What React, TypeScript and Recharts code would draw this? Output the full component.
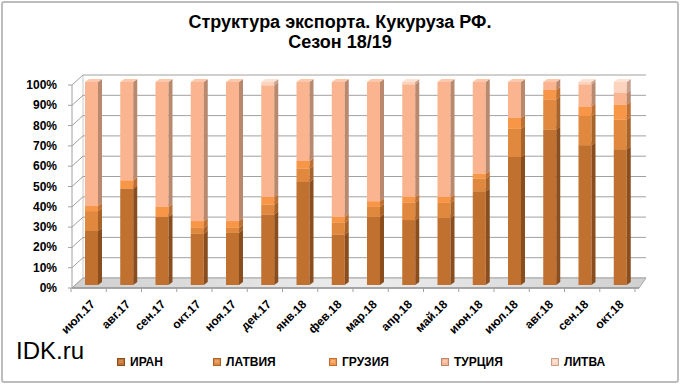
import React from 'react';
import { BarChart, Bar, XAxis, YAxis, CartesianGrid } from 'recharts';

// ---------- data ----------
const categories = ['июл.17', 'авг.17', 'сен.17', 'окт.17', 'ноя.17', 'дек.17', 'янв.18', 'фев.18', 'мар.18', 'апр.18', 'май.18', 'июн.18', 'июл.18', 'авг.18', 'сен.18', 'окт.18'];
const iran = [26.6, 47.5, 33.6, 25.4, 25.7, 34.8, 50.8, 24.9, 33.6, 32.0, 33.1, 46.2, 63.1, 76.6, 68.9, 66.9];
const latvia = [9.8, 0.0, 0.0, 2.8, 2.5, 4.9, 6.6, 5.8, 4.9, 8.7, 7.4, 6.3, 13.9, 14.9, 14.4, 14.6];
const georgia = [2.5, 4.1, 4.9, 3.3, 3.3, 3.7, 3.7, 2.9, 2.8, 2.7, 2.9, 2.4, 5.3, 4.7, 4.7, 7.4];
const turkey = [61.1, 48.4, 61.5, 68.5, 68.5, 55.0, 38.9, 66.4, 58.7, 55.5, 56.6, 45.1, 17.7, 3.8, 10.9, 5.7];
const lithuania = [0, 0, 0, 0, 0, 1.6, 0, 0, 0, 1.1, 0, 0, 0, 0, 1.1, 5.4];

const seriesNames = ['ИРАН', 'ЛАТВИЯ', 'ГРУЗИЯ', 'ТУРЦИЯ', 'ЛИТВА'];
const yTicks = [0, 0.1, 0.2, 0.3, 0.4, 0.5, 0.6, 0.7, 0.8, 0.9, 1];
const yTickLabels = ['0%', '10%', '20%', '30%', '40%', '50%', '60%', '70%', '80%', '90%', '100%'];
const titleLines = ['Структура экспорта. Кукуруза РФ.', 'Сезон 18/19'];
const brand = 'IDK.ru';

const data = categories.map((c, i) => ({
  cat: c,
  iran: iran[i],
  latvia: latvia[i],
  georgia: georgia[i],
  turkey: turkey[i],
  lithuania: lithuania[i],
}));

// ---------- styles ----------
const series = [
  { key: 'iran', front: '#C0702F', side: '#8A4E1E', top: '#CF8A4E' },
  { key: 'latvia', front: '#E0883D', side: '#A8632A', top: '#EAA064' },
  { key: 'georgia', front: '#F79646', side: '#BE7034', top: '#FAB07A' },
  { key: 'turkey', front: '#FAB590', side: '#B8896E', top: '#FCC7AA' },
  { key: 'lithuania', front: '#FCD4BE', side: '#C6A28E', top: '#FDE2D4' },
];
const legendX = [117, 213, 329, 441, 551];

const FONT = 'Arial, "Liberation Sans", sans-serif';
const FRONT_X = 72;
const BACK_X = 83;
const BACK_RIGHT = 646;
const FRONT_RIGHT = 639;
const BACK_DY = -7;
const FRONT_DY = 3;
const GRID = '#A0A0A0';

const makeShape = (s: any) => (props: any) => {
  const { x, y, width, height } = props;
  if (!height || height <= 0.05) return <g />;
  const d = 4;
  const r = 3;
  return (
    <g>
      <rect x={x} y={y} width={width} height={height} fill={s.front} />
      <polygon
        points={`${x + width},${y} ${x + width + d},${y - r} ${x + width + d},${y + height - r} ${x + width},${y + height}`}
        fill={s.side}
      />
      <polygon
        points={`${x},${y} ${x + width},${y} ${x + width + d},${y - r} ${x + d},${y - r}`}
        fill={s.top}
      />
    </g>
  );
};

const GridLine = (props: any) => {
  const { y1, index } = props;
  const yb = y1 + BACK_DY;
  const yf = y1 + FRONT_DY;
  const isBottom = Math.abs(y1 - 285) < 1;
  return (
    <g key={`g-${index}-${y1}`}>
      <line x1={BACK_X} y1={yb} x2={BACK_RIGHT} y2={yb} stroke={GRID} strokeWidth={1} />
      <line x1={FRONT_X} y1={yf} x2={BACK_X} y2={yb} stroke={GRID} strokeWidth={1} />
      <line x1={FRONT_X - 4} y1={yf} x2={FRONT_X} y2={yf} stroke={GRID} strokeWidth={1} />
      {isBottom && (
        <g>
          <line x1={FRONT_X} y1={82 + FRONT_DY} x2={FRONT_X} y2={yf} stroke={GRID} strokeWidth={1} />
          <line x1={BACK_X} y1={82 + BACK_DY} x2={BACK_X} y2={yb} stroke="#C8C8C8" strokeWidth={1} />
          <defs>
            <linearGradient id="floorGrad" x1="0" y1="0" x2="1" y2="0">
              <stop offset="0" stopColor="#CFCFCF" />
              <stop offset="0.5" stopColor="#EDEDED" />
              <stop offset="1" stopColor="#D0D0D0" />
            </linearGradient>
          </defs>
          <polygon
            points={`${FRONT_X},${yf} ${FRONT_RIGHT},${yf} ${BACK_RIGHT},${yb} ${BACK_X},${yb}`}
            fill="url(#floorGrad)"
            stroke="#A8A8A8"
            strokeWidth={1}
          />
          <line x1={FRONT_X} y1={yf} x2={FRONT_RIGHT} y2={yf} stroke="#999" strokeWidth={1.5} />
        </g>
      )}
    </g>
  );
};

const YTick = (props: any) => {
  const { y, payload, index } = props;
  return (
    <text
      x={57}
      y={y + FRONT_DY}
      textAnchor="end"
      dominantBaseline="central"
      fontFamily={FONT}
      fontWeight="bold"
      fontSize={12}
      fill="#000"
    >
      {yTickLabels[index] ?? `${Math.round(payload.value * 100)}%`}
    </text>
  );
};

const XTick = (props: any) => {
  const { x, payload, index } = props;
  const band = 35.23;
  const fx = x - 3;
  return (
    <g>
      <line x1={fx - band / 2} y1={288} x2={fx - band / 2} y2={292} stroke={GRID} />
      {index === categories.length - 1 && (
        <line x1={fx + band / 2} y1={288} x2={fx + band / 2} y2={292} stroke={GRID} />
      )}
      <text
        transform={`translate(${x + 4},${305}) rotate(-45)`}
        textAnchor="end"
        fontFamily={FONT}
        fontWeight="bold"
        fontSize={12}
        fill="#000"
      >
        {payload.value}
      </text>
    </g>
  );
};

const LegendMarker = ({ s }: any) => (
  <svg width={8} height={8} style={{ position: 'absolute', left: 0, top: 3 }}>
    <rect x={0.5} y={0.5} width={7} height={7} fill={s.front} stroke={s.side} strokeWidth={1} />
    <rect x={2} y={2} width={4} height={3} fill={s.top} />
  </svg>
);

export default function App() {
  return (
    <div style={{ position: 'absolute', left: 0, top: 0, width: 680, height: 384, background: '#fff', fontFamily: FONT }}>
      <div
        style={{
          position: 'absolute', left: 1, top: 1, width: 678, height: 382, boxSizing: 'border-box',
          border: '2px solid #BDBDBD', borderRadius: 3,
        }}
      />
      <div style={{ position: 'absolute', left: 0, top: 12, width: 680, textAlign: 'center', fontWeight: 'bold', fontSize: 18, lineHeight: '20px', color: '#000' }}>
        <div>{titleLines[0]}</div>
        <div>{titleLines[1]}</div>
      </div>
      <div style={{ position: 'absolute', left: 0, top: 0 }}>
        <BarChart
          width={680}
          height={384}
          data={data}
          stackOffset="expand"
          barSize={13}
          margin={{ top: 82, right: 42, bottom: 69, left: 0 }}
        >
          <CartesianGrid horizontal={GridLine as any} vertical={false} stroke={GRID} />
          <YAxis
            width={74}
            domain={[0, 1]}
            ticks={yTicks}
            axisLine={false}
            tickLine={false}
            tick={YTick as any}
            interval={0}
          />
          <XAxis
            dataKey="cat"
            height={30}
            axisLine={false}
            tickLine={false}
            tick={XTick as any}
            interval={0}
          />
          {series.map((s, i) => (
            <Bar
              key={s.key}
              dataKey={s.key}
              name={seriesNames[i]}
              stackId="a"
              isAnimationActive={false}
              fill={s.front}
              shape={makeShape(s)}
            />
          ))}
        </BarChart>
      </div>
      <div style={{ position: 'absolute', left: 16, top: 337, fontSize: 24, color: '#000' }}>{brand}</div>
      {series.map((s, i) => (
        <div key={s.key} style={{ position: 'absolute', left: legendX[i], top: 355, height: 14 }}>
          <LegendMarker s={s} />
          <span style={{ position: 'absolute', left: 13, top: 0, fontSize: 12, fontWeight: 'bold', whiteSpace: 'nowrap', lineHeight: '14px', color: '#000' }}>
            {seriesNames[i]}
          </span>
        </div>
      ))}
    </div>
  );
}
